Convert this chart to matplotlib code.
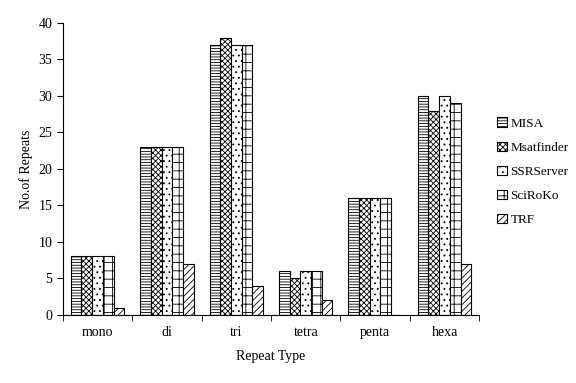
import matplotlib
matplotlib.use("Agg")
import matplotlib.pyplot as plt
import numpy as np

plt.rcParams['font.family'] = ['Liberation Serif', 'DejaVu Serif']
plt.rcParams['hatch.linewidth'] = 0.6

categories = ["mono", "di", "tri", "tetra", "penta", "hexa"]
series_names = ["MISA", "Msatfinder", "SSRServer", "SciRoKo", "TRF"]
misa = [8, 23, 37, 6, 16, 30]
msatfinder = [8, 23, 38, 5, 16, 28]
ssrserver = [8, 23, 37, 6, 16, 30]
sciroko = [8, 23, 37, 6, 16, 29]
trf = [1, 7, 4, 2, 0, 7]
series = [misa, msatfinder, ssrserver, sciroko, trf]
hatches = ['------', 'xxxxxx', '...', '++', '/////']

fig = plt.figure(figsize=(5.76, 3.83), dpi=100)
ax = fig.add_axes([0.109, 0.178, 0.723, 0.762])

x = np.arange(len(categories))
w = 0.154
for i, (name, vals, h) in enumerate(zip(series_names, series, hatches)):
    ax.bar(x + (i - 2) * w, vals, w, label=name, color='white',
           edgecolor='black', hatch=h, linewidth=0.8)

ax.set_xlim(-0.5, len(categories) - 0.5)
ax.set_ylim(0, 40)
ax.set_yticks(range(0, 41, 5))
ax.set_xticks(x)
ax.set_xticklabels(categories, fontsize=10)
ax.tick_params(axis='x', length=0, pad=8)
ax.set_xticks(np.arange(-0.5, len(categories), 1), minor=True)
ax.tick_params(axis='x', which='minor', length=4, direction='out')
ax.tick_params(axis='y', labelsize=10, length=4, direction='out')
for s in ['top', 'right']:
    ax.spines[s].set_visible(False)
ax.set_ylabel("No.of Repeats", fontsize=10)
ax.set_xlabel("Repeat Type", fontsize=10, labelpad=8)

leg = ax.legend(loc='center left', bbox_to_anchor=(1.015, 0.49), frameon=False,
                fontsize=9.5, handlelength=0.7, handleheight=0.7,
                handletextpad=0.3, labelspacing=0.9)

fig.savefig("out.png", dpi=100)
